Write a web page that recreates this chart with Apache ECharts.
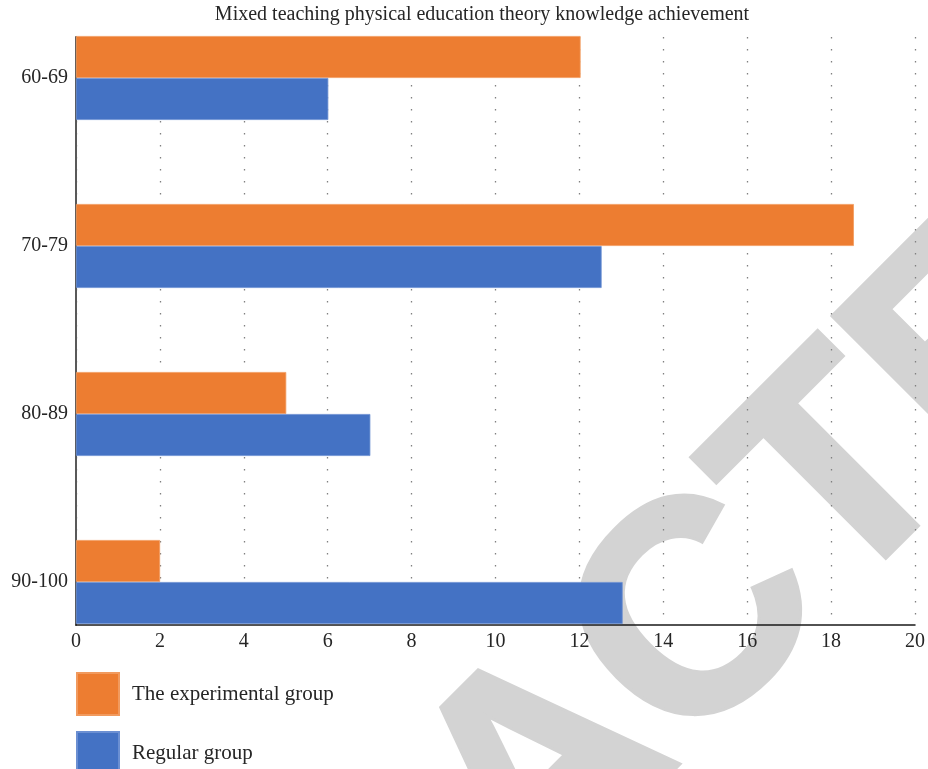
<!DOCTYPE html>
<html>
<head>
<meta charset="utf-8">
<script src="https://cdn.jsdelivr.net/npm/echarts@6/dist/echarts.min.js"></script>
<style>
  html, body { margin: 0; padding: 0; background: #fff; }
  #chart { width: 928px; height: 769px; }
</style>
</head>
<body>
<div id="chart"></div>
<script>
// Score bands and counts per group
const categories = ['60-69', '70-79', '80-89', '90-100'];
const experimentalGroup = [12, 18.5, 5, 2];
const regularGroup = [6, 12.5, 7, 13];
const seriesNames = ['The experimental group', 'Regular group'];
const titleText = 'Mixed teaching physical education theory knowledge achievement';
const watermarkText = 'RETRACTED';
const xMin = 0, xMax = 20, xStep = 2;

const serif = '"Liberation Serif", "Times New Roman", serif';
const textColor = '#262626';

const chart = echarts.init(document.getElementById('chart'), null, { renderer: 'canvas' });

chart.setOption({
  animation: false,
  backgroundColor: '#ffffff',
  title: {
    text: titleText,
    left: 482,
    top: 5,
    padding: 0,
    textAlign: 'center',
    textStyle: { fontFamily: serif, fontSize: 20, fontWeight: 'normal', color: textColor }
  },
  legend: {
    orient: 'vertical',
    left: 76,
    top: 672,
    height: 200,
    padding: 0,
    itemWidth: 42,
    itemHeight: 42,
    itemGap: 15,
    icon: 'rect',
    data: seriesNames,
    textStyle: { fontFamily: serif, fontSize: 21, color: textColor, padding: [0, 0, 0, 8] }
  },
  graphic: [{
    type: 'text',
    x: 548,
    y: 777,
    rotation: Math.PI / 4,
    z: -100,
    silent: true,
    style: {
      text: watermarkText,
      fill: '#d3d3d3',
      stroke: '#d3d3d3',
      lineWidth: 6,
      font: 'bold 300px "Liberation Sans", Arial, sans-serif',
      textAlign: 'center',
      textVerticalAlign: 'middle'
    }
  }],
  grid: [
    // axis frame: value axis, dotted grid lines, category axis line
    { left: 76, right: 11, top: 37, bottom: 144 },
    // bar area: category ticks placed on the group centres
    { left: 76, right: 11, top: 78, bottom: 187 }
  ],
  xAxis: [
    {
      gridIndex: 0,
      type: 'value',
      min: xMin, max: xMax, interval: xStep,
      axisLine: { show: true, lineStyle: { color: '#1a1a1a', width: 1.5 } },
      axisTick: { show: false },
      axisLabel: { fontFamily: serif, fontSize: 20, color: textColor, margin: 7 },
      splitLine: { show: true, lineStyle: { color: '#808080', width: 1.3, type: [1.5, 10.5] } }
    },
    {
      gridIndex: 1,
      type: 'value',
      min: xMin, max: xMax, interval: xStep,
      show: false
    }
  ],
  yAxis: [
    {
      gridIndex: 0,
      type: 'category',
      data: categories,
      inverse: true,
      axisLine: { show: true, lineStyle: { color: '#595959', width: 2 } },
      axisTick: { show: false },
      axisLabel: { show: false },
      splitLine: { show: false }
    },
    {
      gridIndex: 1,
      type: 'category',
      data: categories,
      inverse: true,
      boundaryGap: false,
      axisLine: { show: false },
      axisTick: { show: false },
      axisLabel: { fontFamily: serif, fontSize: 20, color: textColor, margin: 8 },
      splitLine: { show: false }
    }
  ],
  series: [
    {
      name: seriesNames[0],
      type: 'bar',
      xAxisIndex: 1,
      yAxisIndex: 1,
      data: experimentalGroup,
      barWidth: 42,
      barGap: '0%',
      clip: false,
      itemStyle: { color: '#ED7D31', borderColor: '#f19a5e', borderWidth: 0.8 }
    },
    {
      name: seriesNames[1],
      type: 'bar',
      xAxisIndex: 1,
      yAxisIndex: 1,
      data: regularGroup,
      barWidth: 42,
      barGap: '0%',
      clip: false,
      itemStyle: { color: '#4472C4', borderColor: '#6b8fd2', borderWidth: 0.8 }
    }
  ]
});
</script>
</body>
</html>
